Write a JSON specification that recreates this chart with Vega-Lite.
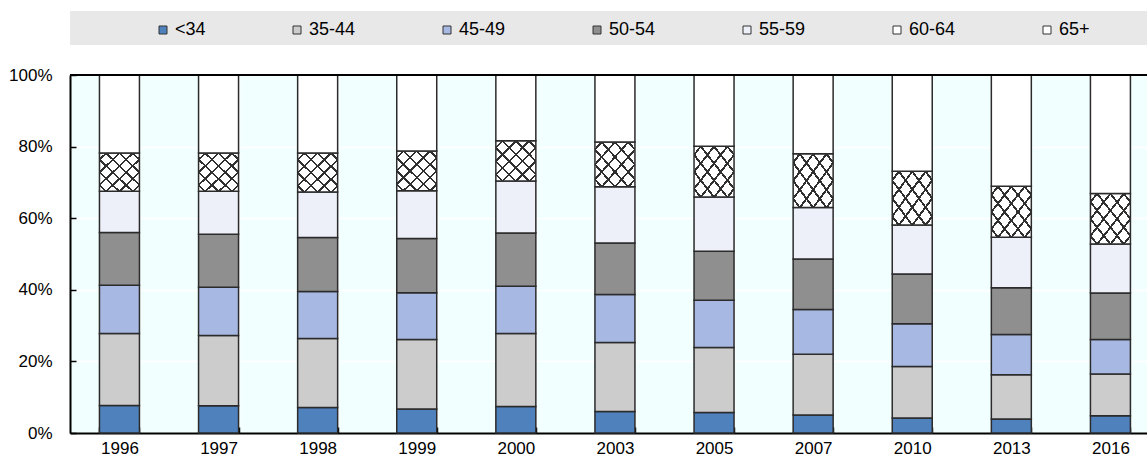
{
  "$schema": "https://vega.github.io/schema/vega-lite/v6.json",
  "width": 1077,
  "height": 358,
  "autosize": {"type": "none"},
  "padding": {"left": 70, "top": 75, "right": 0, "bottom": 23},
  "config": {
    "font": "Liberation Sans, Arial, sans-serif",
    "view": {"fill": "#F2FFFF", "stroke": null},
    "axis": {
      "labelFont": "Liberation Sans, Arial, sans-serif",
      "labelColor": "#000000",
      "labelFontSize": 17,
      "labelOverlap": false,
      "domainColor": "#000000",
      "domainWidth": 2,
      "tickColor": "#000000",
      "tickWidth": 1.5,
      "tickSize": -6,
      "gridColor": "#FFFFFF",
      "gridWidth": 1.5,
      "gridOpacity": 1,
      "title": null
    },
    "legend": {
      "labelFont": "Liberation Sans, Arial, sans-serif"
    }
  },
  "datasets": {
    "shares": [
      {"year": "1996", "group": "<34", "share": 7.7},
      {"year": "1996", "group": "35-44", "share": 20.1},
      {"year": "1996", "group": "45-49", "share": 13.5},
      {"year": "1996", "group": "50-54", "share": 14.7},
      {"year": "1996", "group": "55-59", "share": 11.5},
      {"year": "1996", "group": "60-64", "share": 10.7},
      {"year": "1996", "group": "65+", "share": 21.8},
      {"year": "1997", "group": "<34", "share": 7.6},
      {"year": "1997", "group": "35-44", "share": 19.6},
      {"year": "1997", "group": "45-49", "share": 13.5},
      {"year": "1997", "group": "50-54", "share": 14.8},
      {"year": "1997", "group": "55-59", "share": 12.0},
      {"year": "1997", "group": "60-64", "share": 10.7},
      {"year": "1997", "group": "65+", "share": 21.8},
      {"year": "1998", "group": "<34", "share": 7.1},
      {"year": "1998", "group": "35-44", "share": 19.3},
      {"year": "1998", "group": "45-49", "share": 13.1},
      {"year": "1998", "group": "50-54", "share": 15.1},
      {"year": "1998", "group": "55-59", "share": 12.7},
      {"year": "1998", "group": "60-64", "share": 10.9},
      {"year": "1998", "group": "65+", "share": 21.8},
      {"year": "1999", "group": "<34", "share": 6.7},
      {"year": "1999", "group": "35-44", "share": 19.4},
      {"year": "1999", "group": "45-49", "share": 13.1},
      {"year": "1999", "group": "50-54", "share": 15.1},
      {"year": "1999", "group": "55-59", "share": 13.4},
      {"year": "1999", "group": "60-64", "share": 11.1},
      {"year": "1999", "group": "65+", "share": 21.2},
      {"year": "2000", "group": "<34", "share": 7.4},
      {"year": "2000", "group": "35-44", "share": 20.4},
      {"year": "2000", "group": "45-49", "share": 13.2},
      {"year": "2000", "group": "50-54", "share": 14.9},
      {"year": "2000", "group": "55-59", "share": 14.5},
      {"year": "2000", "group": "60-64", "share": 11.2},
      {"year": "2000", "group": "65+", "share": 18.4},
      {"year": "2003", "group": "<34", "share": 6.0},
      {"year": "2003", "group": "35-44", "share": 19.3},
      {"year": "2003", "group": "45-49", "share": 13.4},
      {"year": "2003", "group": "50-54", "share": 14.4},
      {"year": "2003", "group": "55-59", "share": 15.7},
      {"year": "2003", "group": "60-64", "share": 12.5},
      {"year": "2003", "group": "65+", "share": 18.7},
      {"year": "2005", "group": "<34", "share": 5.7},
      {"year": "2005", "group": "35-44", "share": 18.2},
      {"year": "2005", "group": "45-49", "share": 13.2},
      {"year": "2005", "group": "50-54", "share": 13.7},
      {"year": "2005", "group": "55-59", "share": 15.1},
      {"year": "2005", "group": "60-64", "share": 14.2},
      {"year": "2005", "group": "65+", "share": 19.9},
      {"year": "2007", "group": "<34", "share": 5.0},
      {"year": "2007", "group": "35-44", "share": 17.0},
      {"year": "2007", "group": "45-49", "share": 12.5},
      {"year": "2007", "group": "50-54", "share": 14.1},
      {"year": "2007", "group": "55-59", "share": 14.4},
      {"year": "2007", "group": "60-64", "share": 15.0},
      {"year": "2007", "group": "65+", "share": 22.0},
      {"year": "2010", "group": "<34", "share": 4.2},
      {"year": "2010", "group": "35-44", "share": 14.4},
      {"year": "2010", "group": "45-49", "share": 11.9},
      {"year": "2010", "group": "50-54", "share": 13.9},
      {"year": "2010", "group": "55-59", "share": 13.7},
      {"year": "2010", "group": "60-64", "share": 15.0},
      {"year": "2010", "group": "65+", "share": 26.9},
      {"year": "2013", "group": "<34", "share": 3.9},
      {"year": "2013", "group": "35-44", "share": 12.4},
      {"year": "2013", "group": "45-49", "share": 11.2},
      {"year": "2013", "group": "50-54", "share": 13.1},
      {"year": "2013", "group": "55-59", "share": 14.1},
      {"year": "2013", "group": "60-64", "share": 14.2},
      {"year": "2013", "group": "65+", "share": 31.1},
      {"year": "2016", "group": "<34", "share": 4.8},
      {"year": "2016", "group": "35-44", "share": 11.7},
      {"year": "2016", "group": "45-49", "share": 9.6},
      {"year": "2016", "group": "50-54", "share": 13.0},
      {"year": "2016", "group": "55-59", "share": 13.7},
      {"year": "2016", "group": "60-64", "share": 14.1},
      {"year": "2016", "group": "65+", "share": 33.1}
    ]
  },
  "layer": [
    {
      "data": {"values": [{}]},
      "mark": {"type": "rect", "fill": "#E8E8E8"},
      "encoding": {
        "y": {"datum": 117.9, "type": "quantitative", "scale": {"domain": [0, 100]}},
        "y2": {"datum": 108.4}
      }
    },
    {
      "data": {"name": "shares"},
      "transform": [{"window": [{"op": "row_number", "as": "rank"}], "groupby": ["year"]}],
      "mark": {"type": "bar", "stroke": "#2B2B2B", "strokeWidth": 1.5},
      "encoding": {
        "x": {
          "field": "year",
          "type": "nominal",
          "scale": {"paddingInner": 0.5964, "paddingOuter": 0.2322, "align": 0.64},
          "axis": {
            "labelAngle": 0,
            "tickBand": "extent",
            "grid": true,
            "labelPadding": 21,
            "labelBaseline": "middle"
          }
        },
        "y": {
          "field": "share",
          "type": "quantitative",
          "stack": "zero",
          "scale": {"domain": [0, 100], "nice": false},
          "axis": {
            "values": [0, 10, 20, 30, 40, 50, 60, 70, 80, 90, 100],
            "labelExpr": "datum.value + '%'",
            "grid": true,
            "labelPadding": 24
          }
        },
        "color": {
          "field": "group",
          "type": "nominal",
          "sort": ["<34", "35-44", "45-49", "50-54", "55-59", "60-64", "65+"],
          "scale": {
            "domain": ["<34", "35-44", "45-49", "50-54", "55-59", "60-64", "65+"],
            "range": ["#4F81BD", "#CCCCCC", "#A7B8E2", "#8F8F8F", "#EDF0F8", "#FFFFFF", "#FFFFFF"]
          },
          "legend": {
            "title": null,
            "orient": "none",
            "direction": "horizontal",
            "legendX": 84,
            "legendY": -54,
            "symbolType": "square",
            "symbolSize": 64,
            "symbolStrokeColor": "#333333",
            "symbolStrokeWidth": 1,
            "symbolOpacity": 1,
            "labelFontSize": 18,
            "labelColor": "#000000",
            "labelOffset": 3,
            "columnPadding": 82,
            "padding": 0,
            "encode": {
              "symbols": {
                "update": {
                  "stroke": {"value": "#333333"},
                  "strokeWidth": {"value": 1},
                  "fill": {"signal": "datum.value === '60-64' ? {gradient: 'linear', x1: 0, y1: 0, x2: 1, y2: 1, stops: [{offset: 0, color: '#333333'}, {offset: 0.15, color: '#333333'}, {offset: 0.15, color: '#FFFFFF'}, {offset: 0.3, color: '#FFFFFF'}, {offset: 0.3, color: '#333333'}, {offset: 0.42, color: '#333333'}, {offset: 0.42, color: '#FFFFFF'}, {offset: 0.58, color: '#FFFFFF'}, {offset: 0.58, color: '#333333'}, {offset: 0.7, color: '#333333'}, {offset: 0.7, color: '#FFFFFF'}, {offset: 1, color: '#FFFFFF'}]} : scale('color', datum.value)"}
                }
              }
            }
          }
        },
        "order": {"field": "rank", "type": "quantitative", "sort": "ascending"}
      }
    },
    {
      "data": {"name": "shares"},
      "transform": [{"window": [{"op": "row_number", "as": "rank"}], "groupby": ["year"]}],
      "mark": {
        "type": "bar",
        "strokeWidth": 0,
        "fill": {
          "gradient": "linear", "x1": 0, "y1": 0, "x2": 1, "y2": 1,
          "stops": [
            {"offset": 0, "color": "rgba(255,255,255,0)"},
            {"offset": 0.07, "color": "rgba(255,255,255,0)"},
            {"offset": 0.07, "color": "#303030"},
            {"offset": 0.1, "color": "#303030"},
            {"offset": 0.1, "color": "rgba(255,255,255,0)"},
            {"offset": 0.2367, "color": "rgba(255,255,255,0)"},
            {"offset": 0.2367, "color": "#303030"},
            {"offset": 0.2667, "color": "#303030"},
            {"offset": 0.2667, "color": "rgba(255,255,255,0)"},
            {"offset": 0.4033, "color": "rgba(255,255,255,0)"},
            {"offset": 0.4033, "color": "#303030"},
            {"offset": 0.4333, "color": "#303030"},
            {"offset": 0.4333, "color": "rgba(255,255,255,0)"},
            {"offset": 0.57, "color": "rgba(255,255,255,0)"},
            {"offset": 0.57, "color": "#303030"},
            {"offset": 0.6, "color": "#303030"},
            {"offset": 0.6, "color": "rgba(255,255,255,0)"},
            {"offset": 0.7367, "color": "rgba(255,255,255,0)"},
            {"offset": 0.7367, "color": "#303030"},
            {"offset": 0.7667, "color": "#303030"},
            {"offset": 0.7667, "color": "rgba(255,255,255,0)"},
            {"offset": 0.9033, "color": "rgba(255,255,255,0)"},
            {"offset": 0.9033, "color": "#303030"},
            {"offset": 0.9333, "color": "#303030"},
            {"offset": 0.9333, "color": "rgba(255,255,255,0)"},
            {"offset": 1, "color": "rgba(255,255,255,0)"}
          ]
        }
      },
      "encoding": {
        "x": {"field": "year", "type": "nominal"},
        "y": {"field": "share", "type": "quantitative", "stack": "zero"},
        "opacity": {
          "field": "rank",
          "type": "nominal",
          "scale": {
            "type": "ordinal",
            "domain": [1, 2, 3, 4, 5, 6, 7],
            "range": [0, 0, 0, 0, 0, 1, 0]
          },
          "legend": null
        },
        "order": {"field": "rank", "type": "quantitative", "sort": "ascending"}
      }
    },
    {
      "data": {"name": "shares"},
      "transform": [{"window": [{"op": "row_number", "as": "rank"}], "groupby": ["year"]}],
      "mark": {
        "type": "bar",
        "strokeWidth": 0,
        "fill": {
          "gradient": "linear", "x1": 1, "y1": 0, "x2": 0, "y2": 1,
          "stops": [
            {"offset": 0, "color": "rgba(255,255,255,0)"},
            {"offset": 0.07, "color": "rgba(255,255,255,0)"},
            {"offset": 0.07, "color": "#303030"},
            {"offset": 0.1, "color": "#303030"},
            {"offset": 0.1, "color": "rgba(255,255,255,0)"},
            {"offset": 0.2367, "color": "rgba(255,255,255,0)"},
            {"offset": 0.2367, "color": "#303030"},
            {"offset": 0.2667, "color": "#303030"},
            {"offset": 0.2667, "color": "rgba(255,255,255,0)"},
            {"offset": 0.4033, "color": "rgba(255,255,255,0)"},
            {"offset": 0.4033, "color": "#303030"},
            {"offset": 0.4333, "color": "#303030"},
            {"offset": 0.4333, "color": "rgba(255,255,255,0)"},
            {"offset": 0.57, "color": "rgba(255,255,255,0)"},
            {"offset": 0.57, "color": "#303030"},
            {"offset": 0.6, "color": "#303030"},
            {"offset": 0.6, "color": "rgba(255,255,255,0)"},
            {"offset": 0.7367, "color": "rgba(255,255,255,0)"},
            {"offset": 0.7367, "color": "#303030"},
            {"offset": 0.7667, "color": "#303030"},
            {"offset": 0.7667, "color": "rgba(255,255,255,0)"},
            {"offset": 0.9033, "color": "rgba(255,255,255,0)"},
            {"offset": 0.9033, "color": "#303030"},
            {"offset": 0.9333, "color": "#303030"},
            {"offset": 0.9333, "color": "rgba(255,255,255,0)"},
            {"offset": 1, "color": "rgba(255,255,255,0)"}
          ]
        }
      },
      "encoding": {
        "x": {"field": "year", "type": "nominal"},
        "y": {"field": "share", "type": "quantitative", "stack": "zero"},
        "opacity": {
          "field": "rank",
          "type": "nominal",
          "scale": {
            "type": "ordinal",
            "domain": [1, 2, 3, 4, 5, 6, 7],
            "range": [0, 0, 0, 0, 0, 1, 0]
          },
          "legend": null
        },
        "order": {"field": "rank", "type": "quantitative", "sort": "ascending"}
      }
    },
    {
      "mark": {"type": "rule", "color": "#000000", "strokeWidth": 2},
      "data": {"values": [{}]},
      "encoding": {"y": {"datum": 100, "type": "quantitative"}}
    }
  ]
}
